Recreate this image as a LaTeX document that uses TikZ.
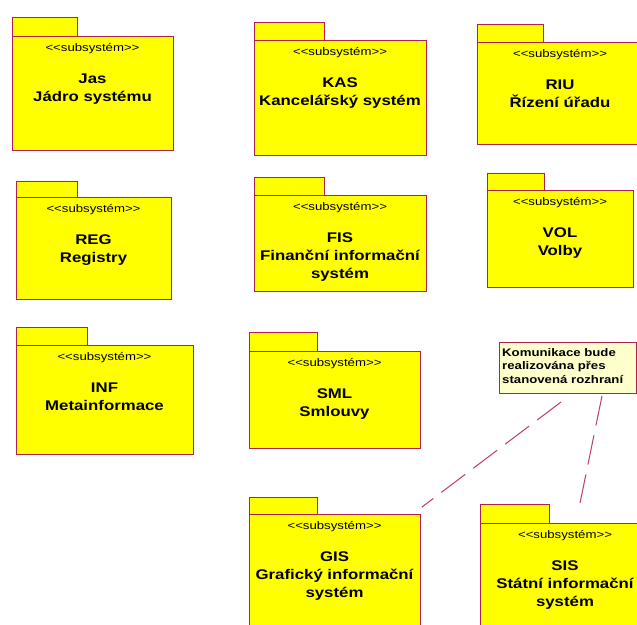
\documentclass[tikz,border=0pt]{standalone}
\usepackage{fontspec}
\newfontfamily\pkgfont[FakeStretch=1.2]{Liberation Sans}
\newfontfamily\notefont[FakeStretch=1.2]{Liberation Sans}
\definecolor{pkgline}{RGB}{176,32,80}
\definecolor{linkline}{RGB}{190,60,100}
\definecolor{pkgyellow}{RGB}{255,255,0}
\definecolor{noteyellow}{RGB}{255,255,204}
\newcommand\stereotext{<\kern0pt<subsystém>\kern0pt>}
% #1 name, #2 left x, #3 tab top, #4 tab right, #5 body top, #6 body right, #7 body bottom, #8 title, #9 number of title lines
\newcommand\drawpkg[9]{%
  \node[pkgshape, minimum width={#4-#2}, minimum height={#5-#3}] (#1tab) at (#2,#3) {};
  \node[pkgshape, minimum width={#6-#2}, minimum height={#7-#5}] (#1) at (#2,#5) {};
  \node[stereo] (#1st) at ({(#2+#6)/2},{#5+15}) {\stereotext};
  \node[pkgtitle] (#1ti) at ({(#2+#6)/2},{#5+47+18*(#9-1)}) {#8};
}
\begin{document}
\begin{tikzpicture}[x=1pt,y=-1pt,
  pkgshape/.style={draw=pkgline, fill=pkgyellow, line width=1pt, inner sep=0pt, outer sep=0pt, rectangle, anchor=north west},
  stereo/.style={font=\pkgfont\fontsize{11}{12}\selectfont, anchor=base, inner sep=0pt},
  pkgtitle/.style={font=\pkgfont\bfseries\fontsize{14}{18}\selectfont, align=center, anchor=base, inner sep=0pt},
  notebox/.style={draw=pkgline, fill=noteyellow, line width=1pt, inner sep=0pt, rectangle, anchor=north west},
  notetext/.style={font=\notefont\bfseries\fontsize{11}{13.5}\selectfont, align=left, anchor=base west, inner sep=0pt},
  notelink/.style={draw=linkline, line width=1pt, dash pattern=on 30pt off 10pt}
]
\useasboundingbox (0,0) rectangle (637,624);
\begin{scope}
\clip (0,0) rectangle (637,624);
\drawpkg{jas}{12}{17}{77}{36}{173}{150}{Jas\\Jádro systému}{2}
\drawpkg{kas}{254}{22}{324}{40}{426}{155}{KAS\\Kancelářský systém}{2}
\drawpkg{riu}{477}{24}{543}{42}{643}{144}{RIU\\Řízení úřadu}{2}
\drawpkg{reg}{16}{181}{77}{197}{171}{299}{REG\\Registry}{2}
\drawpkg{fis}{254}{177}{324}{195}{426}{291}{FIS\\Finanční informační\\systém}{3}
\drawpkg{vol}{487}{173}{544}{190}{633}{287}{VOL\\Volby}{2}
\drawpkg{inf}{16}{327}{87}{345}{193}{454}{INF\\Metainformace}{2}
\drawpkg{sml}{249}{332}{317}{351}{420}{448}{SML\\Smlouvy}{2}
\drawpkg{gis}{249}{497}{317}{514}{420}{640}{GIS\\Grafický informační\\systém}{3}
\drawpkg{sis}{480}{504}{549}{523}{650}{640}{SIS\\Státní informační\\systém}{3}
\node[notebox, minimum width=137, minimum height=51] (note) at (499,342) {};
\node[notetext] (notet) at (502,383) {Komunikace bude\\realizována přes\\stanovená rozhraní};
\coordinate (n1) at (561,402);
\coordinate (g1) at (422,507);
\coordinate (n2) at (602,396);
\coordinate (s1) at (580,503);
\draw[notelink] (n1) -- (g1);
\draw[notelink] (n2) -- (s1);
\end{scope}
\end{tikzpicture}
\end{document}
